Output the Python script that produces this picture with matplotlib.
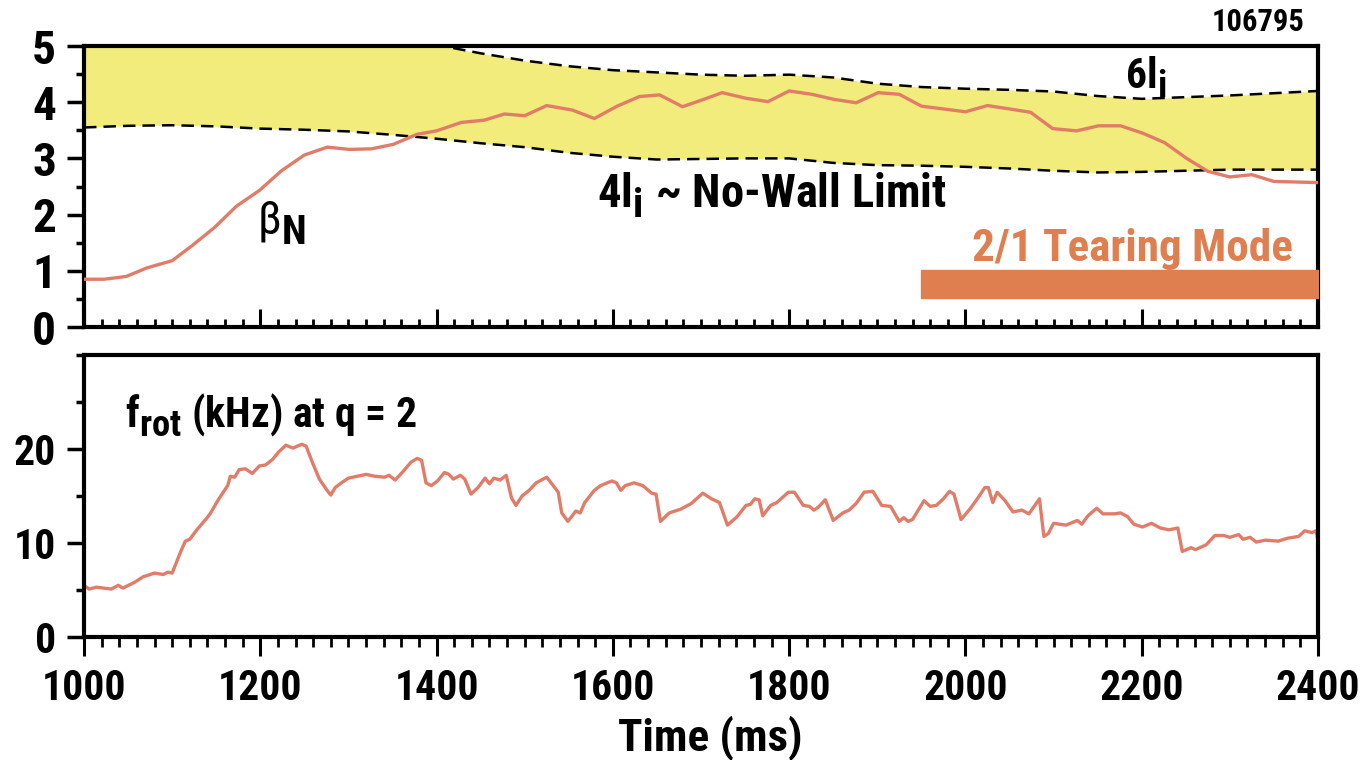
import matplotlib
matplotlib.use('Agg')
import matplotlib.pyplot as plt
from matplotlib import font_manager as fm
from matplotlib.ticker import MultipleLocator
try:
    import matplotlib._mathtext as _mt
    _mt.SHRINK_FACTOR = 0.88
    _mt.FontConstantsBase.sub1 = 0.42
except Exception:
    pass

names = {f.name for f in fm.fontManager.ttflist}
FONT = 'Liberation Sans'
for cand in ['Roboto Condensed', 'PT Sans Narrow', 'Liberation Sans Narrow']:
    if cand in names:
        FONT = cand
        break
plt.rcParams['font.family'] = [FONT, 'Liberation Sans', 'DejaVu Sans']
plt.rcParams['mathtext.fontset'] = 'custom'
plt.rcParams['mathtext.rm'] = FONT
plt.rcParams['mathtext.bf'] = FONT + ':bold'
plt.rcParams['mathtext.it'] = FONT + ':italic'

# ---------------- data ----------------
beta_t = [1000, 1023, 1048, 1071, 1100, 1122, 1148, 1173, 1199, 1224, 1250, 1276, 1301,
          1326, 1351, 1378, 1400, 1428, 1454, 1477, 1500, 1525, 1554, 1579, 1605, 1630,
          1653, 1679, 1703, 1724, 1751, 1776, 1800, 1826, 1851, 1876, 1901, 1925, 1950,
          1975, 2000, 2025, 2050, 2074, 2099, 2126, 2151, 2176, 2201, 2226, 2251, 2275,
          2300, 2325, 2350, 2375, 2400]
beta_n = [0.85, 0.85, 0.90, 1.05, 1.18, 1.44, 1.77, 2.15, 2.43, 2.78, 3.06, 3.20, 3.16,
          3.17, 3.25, 3.43, 3.49, 3.64, 3.68, 3.79, 3.76, 3.94, 3.86, 3.71, 3.93, 4.10,
          4.13, 3.92, 4.05, 4.17, 4.07, 4.01, 4.20, 4.14, 4.05, 3.99, 4.17, 4.14, 3.93,
          3.88, 3.83, 3.94, 3.88, 3.82, 3.53, 3.49, 3.58, 3.58, 3.45, 3.28, 3.00, 2.77,
          2.67, 2.71, 2.59, 2.58, 2.57]

li_t = [1000, 1050, 1100, 1150, 1200, 1250, 1300, 1350, 1400, 1450, 1500, 1550, 1600,
        1650, 1700, 1750, 1800, 1850, 1900, 1950, 2000, 2050, 2100, 2150, 2200, 2250,
        2300, 2350, 2400]
li4 = [3.55, 3.58, 3.59, 3.57, 3.53, 3.51, 3.48, 3.42, 3.35, 3.27, 3.20, 3.10, 3.03,
       2.98, 2.99, 3.00, 3.00, 2.92, 2.88, 2.87, 2.85, 2.82, 2.78, 2.75, 2.76, 2.78,
       2.80, 2.80, 2.80]
li6 = [5.33, 5.37, 5.39, 5.36, 5.30, 5.27, 5.22, 5.13, 5.02, 4.87, 4.74, 4.64, 4.57,
       4.53, 4.49, 4.47, 4.49, 4.44, 4.33, 4.27, 4.24, 4.22, 4.19, 4.11, 4.06, 4.09,
       4.12, 4.16, 4.20]

tearing_start = 1950
tearing_end = 2400

frot_t = [1001, 1006, 1014, 1031, 1039, 1044, 1057, 1067, 1080, 1090, 1095, 1100, 1110,
          1115, 1120, 1128, 1138, 1143, 1153, 1163, 1166, 1171, 1176, 1183, 1191, 1199,
          1206, 1214, 1221, 1229, 1237, 1242, 1247, 1252, 1259, 1267, 1275, 1280, 1285,
          1292, 1300, 1310, 1320, 1330, 1341, 1346, 1353, 1361, 1371, 1378, 1383, 1388,
          1394, 1401, 1409, 1414, 1419, 1427, 1432, 1439, 1447, 1455, 1460, 1465, 1472,
          1479, 1485, 1490, 1497, 1505, 1513, 1525, 1538, 1542, 1549, 1558, 1563, 1568,
          1579, 1586, 1591, 1599, 1604, 1609, 1614, 1624, 1634, 1644, 1649, 1654, 1664,
          1677, 1689, 1702, 1712, 1721, 1730, 1741, 1751, 1756, 1761, 1766, 1770, 1779,
          1786, 1799, 1806, 1816, 1823, 1828, 1833, 1841, 1850, 1861, 1868, 1876, 1885,
          1895, 1905, 1915, 1925, 1930, 1935, 1940, 1953, 1960, 1967, 1975, 1982, 1987,
          1995, 2005, 2015, 2022, 2026, 2031, 2036, 2045, 2054, 2064, 2072, 2084, 2089,
          2094, 2100, 2114, 2127, 2132, 2139, 2149, 2156, 2169, 2176, 2184, 2191, 2201,
          2211, 2221, 2231, 2241, 2246, 2256, 2261, 2273, 2283, 2293, 2300, 2310, 2315,
          2323, 2330, 2340, 2355, 2365, 2378, 2385, 2393, 2398, 2400]
frot = [5.4, 5.1, 5.3, 5.1, 5.5, 5.2, 5.8, 6.4, 6.8, 6.65, 6.9, 6.8, 9.15,
        10.2, 10.4, 11.4, 12.5, 13.1, 14.7, 16.1, 17.1, 17.0, 17.8, 17.9, 17.4, 18.2,
        18.3, 18.9, 19.7, 20.4, 20.1, 20.3, 20.5, 20.3, 18.6, 16.8, 15.7, 15.1, 15.9,
        16.4, 16.9, 17.1, 17.3, 17.1, 17.0, 17.2, 16.7, 17.5, 18.6, 19.0, 18.8, 16.4,
        16.1, 16.6, 17.5, 17.3, 16.8, 17.2, 16.8, 15.2, 15.9, 16.9, 16.3, 16.9, 16.7,
        17.2, 14.8, 14.0, 15.0, 15.6, 16.4, 17.0, 15.4, 13.2, 12.3, 13.4, 13.2, 14.3,
        15.6, 16.1, 16.3, 16.6, 16.4, 15.6, 16.1, 16.4, 16.1, 15.3, 15.2, 12.3, 13.2,
        13.6, 14.2, 15.3, 14.7, 14.3, 11.9, 12.8, 14.0, 14.1, 14.7, 14.6, 12.9, 14.0,
        14.3, 15.4, 15.4, 14.0, 13.9, 13.5, 13.8, 14.6, 12.4, 13.2, 13.5, 14.2, 15.4,
        15.5, 14.0, 13.9, 12.3, 12.7, 12.3, 12.5, 14.5, 13.9, 14.0, 14.7, 15.5, 15.2,
        12.5, 13.6, 14.9, 15.9, 15.9, 14.3, 15.4, 14.5, 13.3, 13.5, 13.1, 14.7, 10.7,
        11.0, 12.1, 11.9, 12.4, 12.0, 12.9, 13.7, 13.1, 13.1, 13.2, 12.8, 12.0, 11.7,
        12.1, 11.6, 11.4, 11.6, 9.1, 9.5, 9.3, 9.8, 10.8, 10.8, 10.6, 10.9, 10.4,
        10.6, 10.1, 10.3, 10.2, 10.5, 10.7, 11.3, 11.1, 11.3, 10.2]

shot_label = '106795'
x_ticks = [1000, 1200, 1400, 1600, 1800, 2000, 2200, 2400]

# ---------------- style ----------------
LINE_C = '#E17C69'
FILL_C = '#F2EC7C'
TEAR_C = '#DF7F4F'
SPINE_W = 3.0

fig = plt.figure(figsize=(13.67, 7.6), dpi=100)
ax1 = fig.add_axes([84/1367, 1-327/760, (1318-84)/1367, (327-46)/760])
ax2 = fig.add_axes([84/1367, 1-637/760, (1318-84)/1367, (637-355)/760])

# top panel
ax1.fill_between(li_t, li4, li6, color=FILL_C, lw=0, zorder=1)
ax1.plot(li_t, li4, color='black', lw=1.8, dashes=(5.0, 2.8), zorder=2)
ax1.plot(li_t, li6, color='black', lw=1.8, dashes=(5.0, 2.8), zorder=2)
ax1.plot(beta_t, beta_n, color=LINE_C, lw=2.4, zorder=3)
ax1.broken_barh([(tearing_start, tearing_end - tearing_start)], (0.52, 0.49),
                color=TEAR_C, zorder=3)
ax1.set_xlim(1000, 2400)
ax1.set_ylim(0, 5)
ax1.xaxis.set_major_locator(MultipleLocator(200))
ax1.xaxis.set_minor_locator(MultipleLocator(20))
ax1.yaxis.set_major_locator(MultipleLocator(1))
ax1.yaxis.set_minor_locator(MultipleLocator(0.5))
ax1.tick_params(axis='x', which='major', direction='in', length=13, width=2.2,
                labelbottom=False)
ax1.tick_params(axis='x', which='minor', direction='in', length=6, width=2.0)
ax1.tick_params(axis='y', which='major', direction='out', length=12, width=2.5,
                labelsize=34, pad=8)
ax1.tick_params(axis='y', which='minor', direction='out', length=6, width=2.5)
for lab in ax1.get_yticklabels():
    lab.set_fontweight('bold')

ax1.text(1196, 1.64, r'β$_\mathbf{N}$', fontsize=33, fontweight='normal',
         ha='left', va='baseline')
ax1.text(1582, 2.12, r'4l$_\mathbf{i}$ ~ No-Wall Limit', fontsize=33.5,
         fontweight='bold', ha='left', va='baseline')
ax1.text(2181, 4.25, r'6l$_\mathbf{i}$', fontsize=30, fontweight='bold',
         ha='left', va='baseline')
ax1.text(2008, 1.17, '2/1 Tearing Mode', fontsize=32.5, fontweight='bold',
         color=TEAR_C, ha='left', va='baseline')

# bottom panel
ax2.plot(frot_t, frot, color=LINE_C, lw=2.4)
ax2.set_xlim(1000, 2400)
ax2.set_ylim(0, 30)
ax2.set_xticks(x_ticks)
ax2.set_xticklabels([str(v) for v in x_ticks])
ax2.xaxis.set_minor_locator(MultipleLocator(20))
ax2.yaxis.set_major_locator(MultipleLocator(10))
ax2.yaxis.set_minor_locator(MultipleLocator(5))
ax2.set_yticks([0, 10, 20])
ax2.tick_params(axis='x', which='major', direction='out', length=14, width=2.2,
                labelsize=30, pad=8)
ax2.tick_params(axis='x', which='minor', direction='out', length=7, width=2.0)
ax2.tick_params(axis='y', which='major', direction='out', length=12, width=2.5,
                labelsize=30, pad=8)
ax2.tick_params(axis='y', which='minor', direction='out', length=6, width=2.5)
for lab in ax2.get_xticklabels() + ax2.get_yticklabels():
    lab.set_fontweight('bold')
ax2.set_xlabel('Time (ms)', fontsize=32.5, fontweight='bold', labelpad=5)
ax2.xaxis.label.set_x((710 - 84) / 1234)
ax2.text(1046, 22.3, r'f$_\mathbf{rot}$ (kHz) at q = 2', fontsize=30,
         fontweight='bold', ha='left', va='baseline')

for ax in (ax1, ax2):
    for sp in ax.spines.values():
        sp.set_linewidth(SPINE_W)

fig.text(1305/1367, 1-22/760, shot_label, fontsize=22, fontweight='bold',
         ha='right', va='center')

fig.savefig('out.png', dpi=100)
